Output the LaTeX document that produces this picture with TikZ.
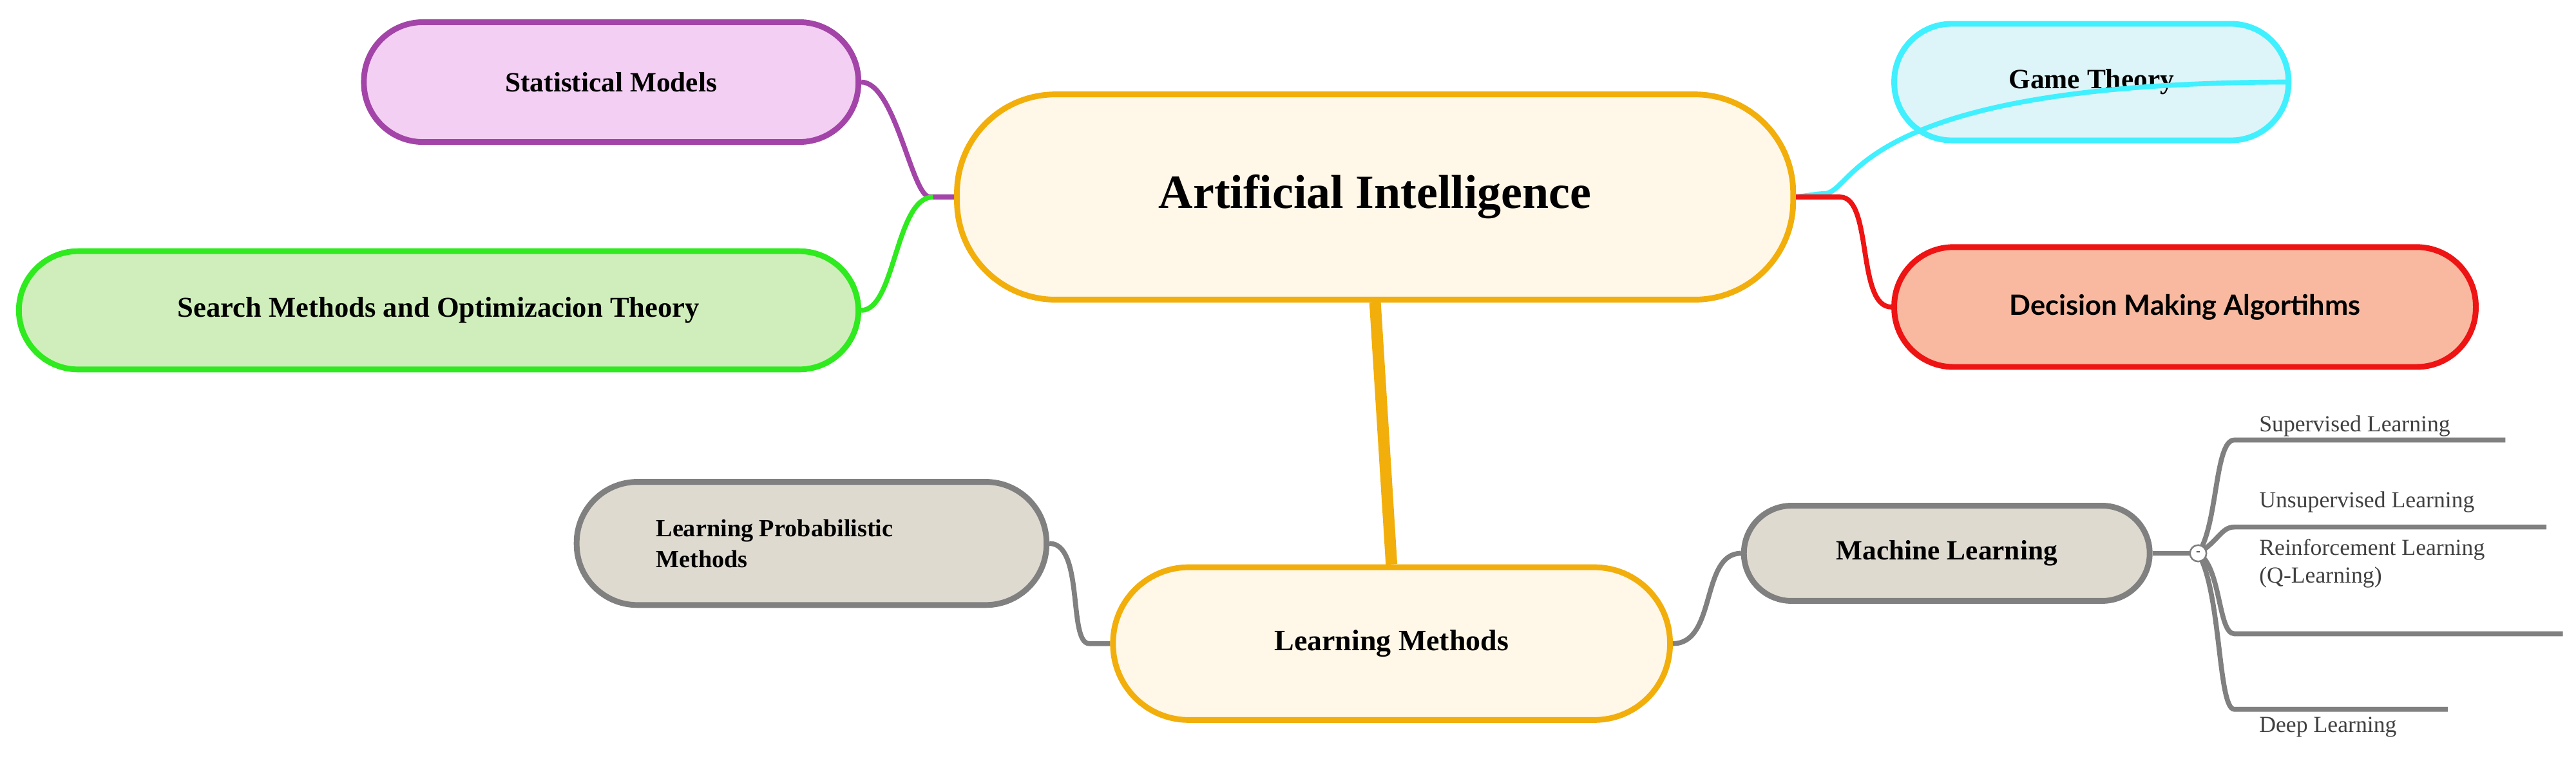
\documentclass[tikz,border=0pt]{standalone}
\usepackage{fontspec}
\setmainfont{Liberation Serif}
\newfontfamily\dsans{Lato}
\begin{document}
\begin{tikzpicture}[x=1pt,y=-1pt,
  box/.style={draw,line width=3.5pt,rounded corners=#1,inner sep=0pt,font=\bfseries},
  box/.default=30pt,
  con/.style={line width=3pt,rounded corners=2pt},
  sub/.style={anchor=base west,font=\fontsize{14}{17}\selectfont,text=black!75,align=left,inner sep=0pt}]
\definecolor{orng}{HTML}{F2AE0A}
\definecolor{cream}{HTML}{FFF7E7}
\definecolor{purp}{HTML}{A345A8}
\definecolor{pink}{HTML}{F3CFF3}
\definecolor{grn}{HTML}{2EEA1E}
\definecolor{lgrn}{HTML}{D0EEBB}
\definecolor{cyn}{HTML}{40F0FF}
\definecolor{lcyn}{HTML}{DDF4F8}
\definecolor{redd}{HTML}{EE1414}
\definecolor{salm}{HTML}{F8B9A0}
\definecolor{gry}{HTML}{808080}
\definecolor{beig}{HTML}{DEDAD0}
\useasboundingbox (0,0) rectangle (1568,462);
\node[box=60pt,draw=orng,fill=cream,minimum width=509pt,minimum height=125pt,font=\bfseries\fontsize{29}{34}\selectfont] (ai) at (837,120) {Artificial Intelligence};
\node[box=36pt,draw=purp,fill=pink,minimum width=301pt,minimum height=73pt,font=\bfseries\fontsize{17}{20}\selectfont] (stat) at (372,50) {Statistical Models};
\node[box=36pt,draw=grn,fill=lgrn,minimum width=511pt,minimum height=72pt,font=\bfseries\fontsize{17.5}{20}\selectfont] (srch) at (267,189) {Search Methods and Optimizacion Theory};
\node[box=35pt,draw=cyn,fill=lcyn,minimum width=240pt,minimum height=71pt,font=\bfseries\fontsize{17}{20}\selectfont] (game) at (1273,50) {Game Theory};
\node[box=36pt,draw=redd,fill=salm,minimum width=354pt,minimum height=73pt,font=\dsans\bfseries\fontsize{17}{20}\selectfont] (dec) at (1330,187) {Decision Making Algortihms};
\node[box=46pt,draw=orng,fill=cream,minimum width=339pt,minimum height=93pt,font=\bfseries\fontsize{18}{21}\selectfont] (lm) at (847,392) {Learning Methods};
\node[box=37pt,draw=gry,fill=beig,minimum width=286pt,minimum height=75pt,font=\bfseries\fontsize{15}{19}\selectfont,align=left] (lpm) at (494,331) {Learning Probabilistic\hspace*{45pt}\\Methods};
\node[box=29pt,draw=gry,fill=beig,minimum width=247pt,minimum height=58pt,font=\bfseries\fontsize{17}{20}\selectfont] (ml) at (1185,337) {Machine Learning};
% connectors
\coordinate (aL) at (568,120);
\coordinate (aR) at (1108,118);
\coordinate (aR2) at (1118,120);
\draw[con,purp] (ai.west) -- (aL) .. controls (555,120) and (545,50) .. (stat.east);
\draw[con,grn] (aL) .. controls (545,120) and (545,189) .. (srch.east);
\draw[con,cyn] (ai.east) -- (aR) .. controls (1130,118) and (1125,50) .. (game.east);
\draw[con,redd] (ai.east) -- (aR2) .. controls (1140,120) and (1130,187) .. (dec.west);
\draw[orng,line width=7pt] (ai.south) -- (lm.north);
\coordinate (lL) at (665,392);
\draw[con,gry] (lm.west) -- (lL) .. controls (650,392) and (660,331) .. (lpm.east);
\draw[con,gry] (lm.east) .. controls (1045,392) and (1035,337) .. (ml.west);
% sub-branches
\coordinate (c) at (1338,337);
\draw[con,gry] (ml.east) -- (c);
\coordinate (s1) at (1362,268); \coordinate (e1) at (1525,268);
\coordinate (s2) at (1362,321); \coordinate (e2) at (1550,321);
\coordinate (s3) at (1362,386); \coordinate (e3) at (1560,386);
\coordinate (s4) at (1362,432); \coordinate (e4) at (1490,432);
\draw[con,gry] (c) .. controls (1350,320) and (1348,268) .. (s1) -- (e1);
\draw[con,gry] (c) .. controls (1350,330) and (1352,321) .. (s2) -- (e2);
\draw[con,gry] (c) .. controls (1352,345) and (1350,386) .. (s3) -- (e3);
\draw[con,gry] (c) .. controls (1352,360) and (1350,432) .. (s4) -- (e4);
\node[circle,draw=gry,fill=white,line width=1pt,inner sep=0pt,minimum size=10pt,font=\fontsize{8}{8}\selectfont] (cc) at (c) {-};
\node[sub] (t1) at (1375,263) {Supervised Learning};
\node[sub] (t2) at (1375,309) {Unsupervised Learning};
\node[sub] (t3) at (1375,355) {Reinforcement Learning\\(Q-Learning)};
\node[sub] (t4) at (1375,446) {Deep Learning};
\end{tikzpicture}
\end{document}
